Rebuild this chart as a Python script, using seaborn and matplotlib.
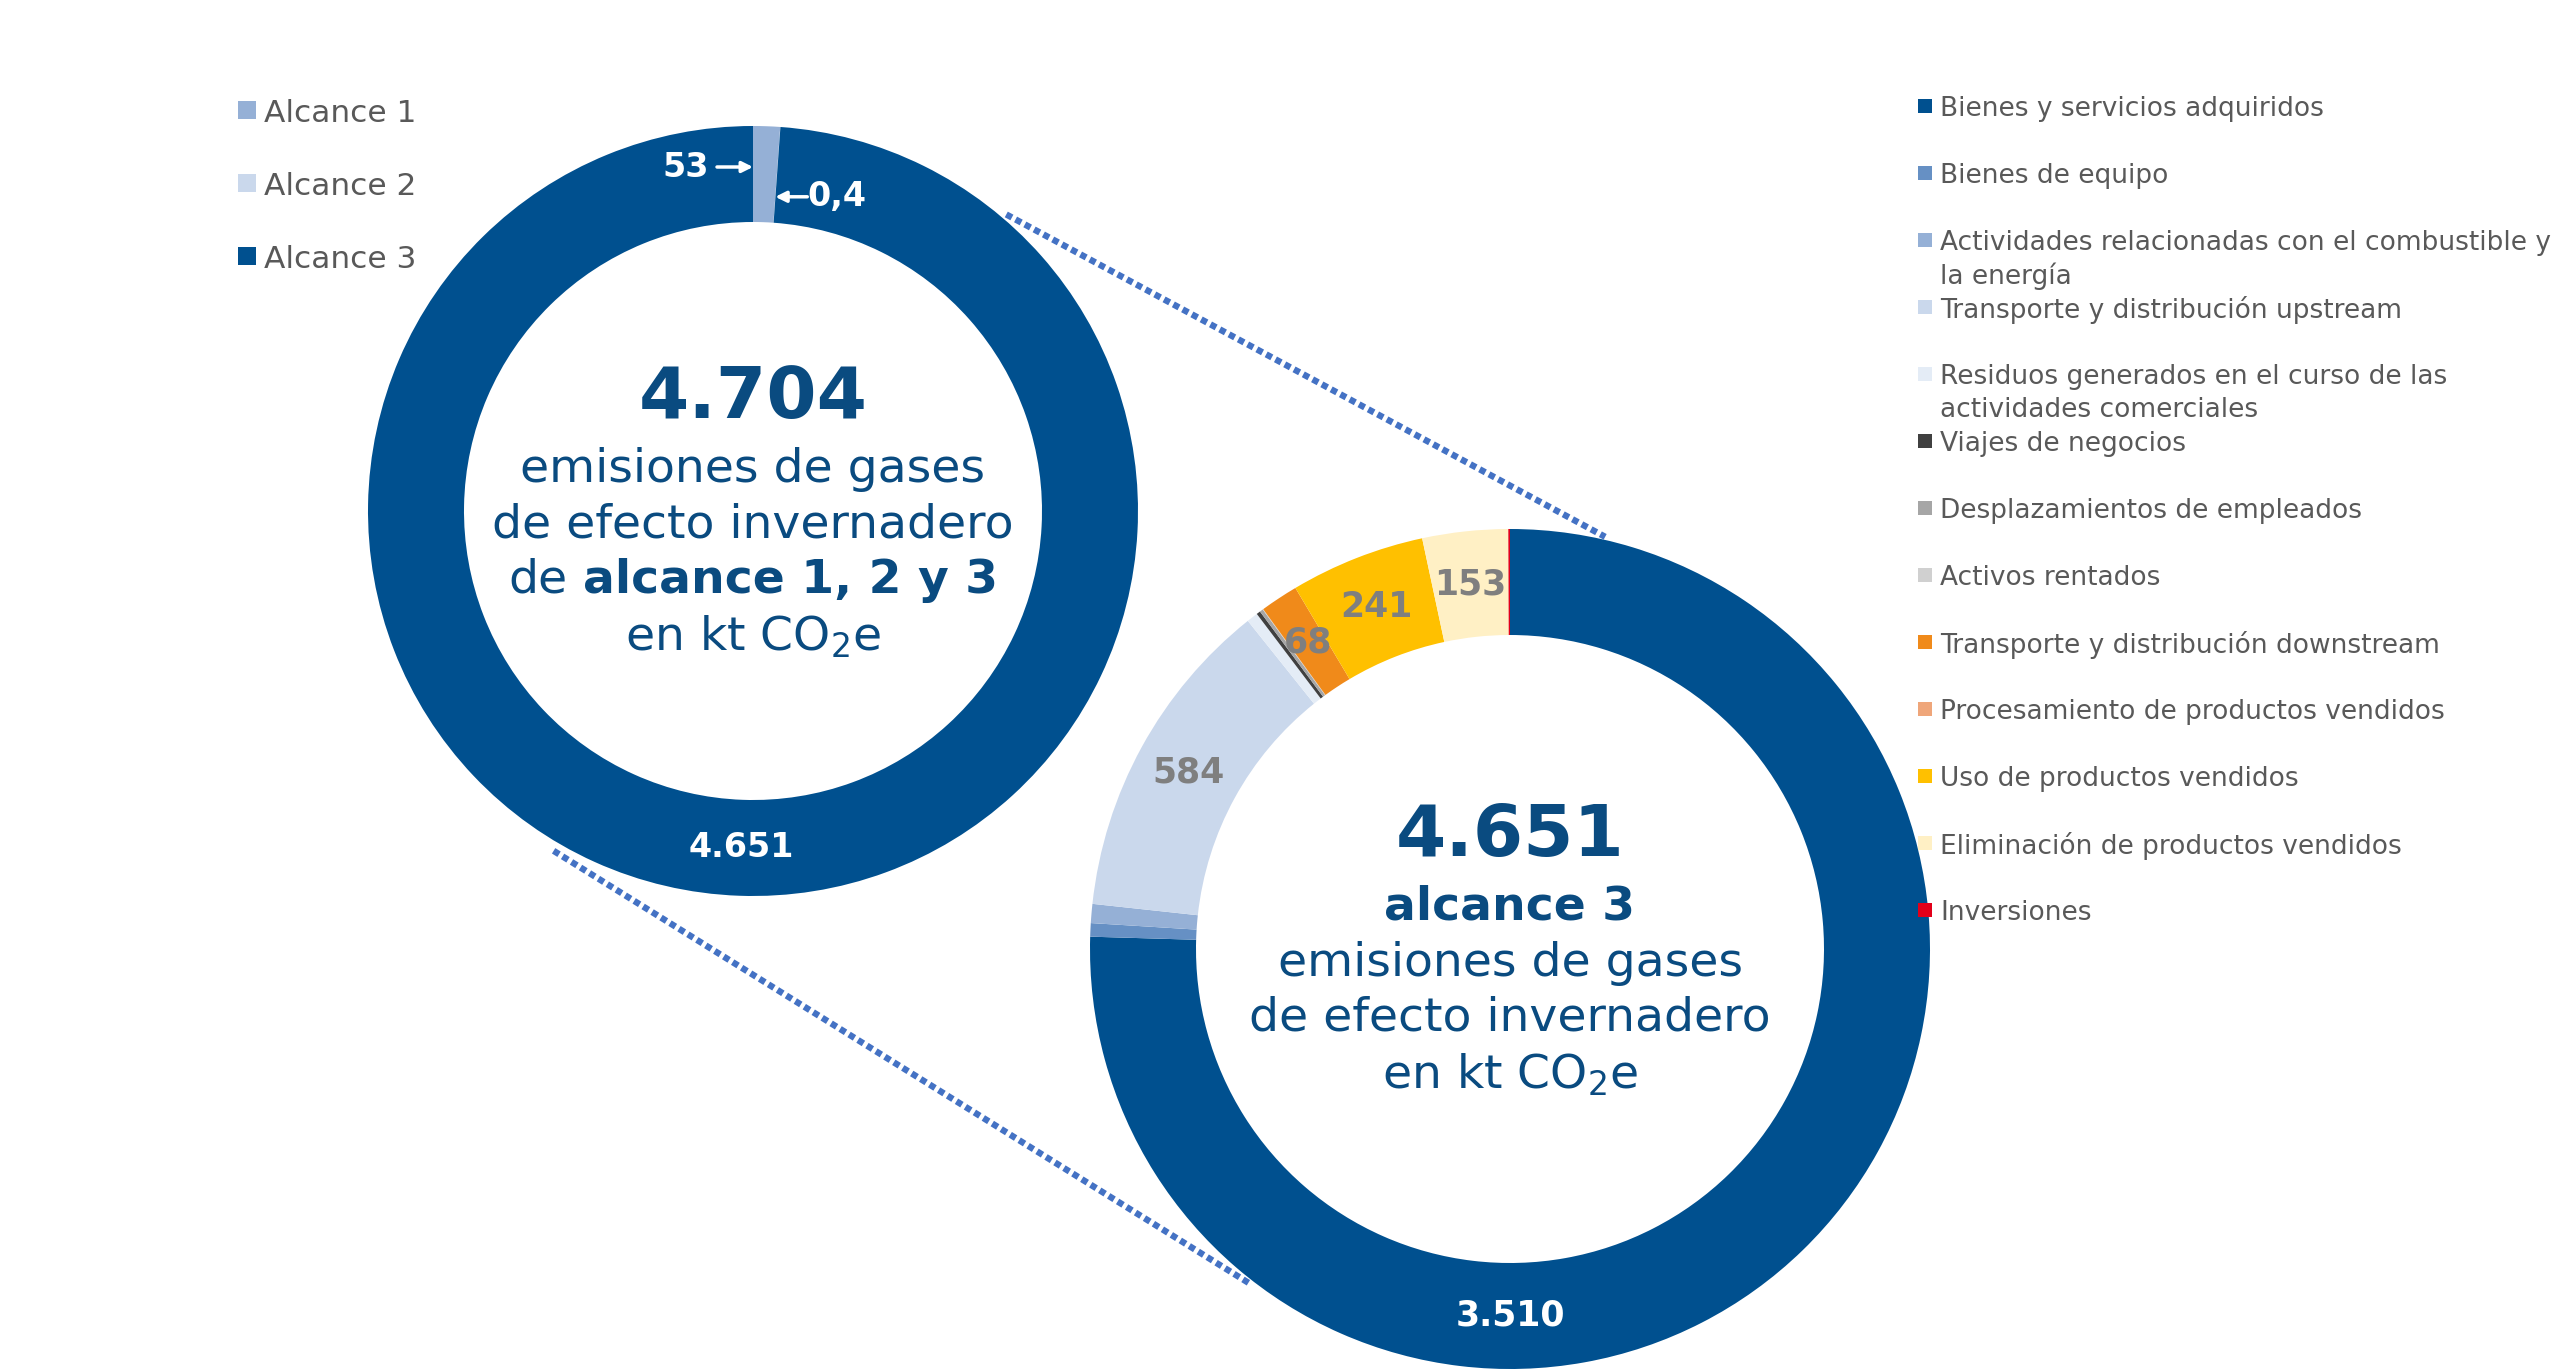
import numpy as np
import seaborn as sns
import matplotlib.pyplot as plt
from matplotlib.offsetbox import TextArea, HPacker, AnnotationBbox

sns.set_theme(style="white")
plt.rcParams["font.family"] = ["DejaVu Sans"]
plt.rcParams["mathtext.default"] = "regular"

# Datos: emisiones por alcance (kt CO2e)
scope_labels = ["Alcance 1", "Alcance 2", "Alcance 3"]
scope_values = [53, 0.4, 4651]
scope_colors = ["#95B0D6", "#CAD8EC", "#00508F"]

# Datos: categorías de alcance 3 (kt CO2e)
cat_labels = [
    "Bienes y servicios adquiridos",
    "Bienes de equipo",
    "Actividades relacionadas con el combustible y\nla energía",
    "Transporte y distribución upstream",
    "Residuos generados en el curso de las\nactividades comerciales",
    "Viajes de negocios",
    "Desplazamientos de empleados",
    "Activos rentados",
    "Transporte y distribución downstream",
    "Procesamiento de productos vendidos",
    "Uso de productos vendidos",
    "Eliminación de productos vendidos",
    "Inversiones",
]
cat_values = [3510, 24, 34, 584, 20, 7, 6, 1, 68, 0, 241, 153, 3]
cat_colors = ["#00508F", "#6690C4", "#95B0D6", "#CAD8EC", "#E4ECF6", "#404040",
              "#A6A6A6", "#D0D0D0", "#F08A1A", "#EFA67A", "#FFC000", "#FFF0C5",
              "#E2001A"]

W, H = 2560, 1370
BLUE_TXT = "#0A4B80"
GRAY_TXT = "#595959"


def fmt(v):
    if v < 1:
        return f"{v:.1f}".replace(".", ",")
    return f"{v:,.0f}".replace(",", ".")


def polar(cx, cy, r, ang):
    # ang en grados, sentido horario desde las 12; cy en píxeles desde arriba
    a = np.deg2rad(ang)
    return cx + r * np.sin(a), (H - cy) + r * np.cos(a)


def mid_angles(values):
    v = np.asarray(values, dtype=float)
    cum = np.cumsum(v)
    return (cum - v / 2) / v.sum() * 360, cum / v.sum() * 360


fig = plt.figure(figsize=(W / 100, H / 100), dpi=100)
ax = fig.add_axes([0, 0, 1, 1])

# donut izquierdo (alcances)
lx, ly, lr, lw = 753, 511, 385, 96
ax.pie(scope_values, colors=scope_colors, radius=lr, center=(lx, H - ly),
       startangle=90, counterclock=False, frame=True,
       wedgeprops=dict(width=lw, linewidth=0))

# donut derecho (categorías alcance 3)
rx, ry, rr, rw = 1510, 949, 420, 106
ax.pie(cat_values, colors=cat_colors, radius=rr, center=(rx, H - ry),
       startangle=90, counterclock=False, frame=True,
       wedgeprops=dict(width=rw, linewidth=0))

# líneas punteadas de conexión
for a1, r1, a2, r2 in [(40.5, 390, 13, 423), (210.4, 394, 218, 424)]:
    p1 = polar(lx, ly, r1, a1)
    p2 = polar(rx, ry, r2, a2)
    ax.plot([p1[0], p2[0]], [p1[1], p2[1]], ls=(0, (1, 0.65)), lw=4.6,
            color="#4472C4", zorder=0, dash_capstyle="butt")

# etiquetas donut izquierdo
mids, ends = mid_angles(scope_values)
tip = polar(lx, ly, 344, 0)
ax.annotate("", xy=tip, xytext=(tip[0] - 36, tip[1]),
            arrowprops=dict(arrowstyle="-|>", color="white", lw=2.5,
                            mutation_scale=16, shrinkA=0, shrinkB=0))
ax.text(tip[0] - 44, tip[1], fmt(scope_values[0]), color="white",
        fontsize=24, fontweight="bold", ha="right", va="center")
tip = polar(lx, ly, 315, ends[0])
ax.annotate("", xy=tip, xytext=(tip[0] + 32, tip[1]),
            arrowprops=dict(arrowstyle="-|>", color="white", lw=2.5,
                            mutation_scale=16, shrinkA=0, shrinkB=0))
ax.text(tip[0] + 32, tip[1], fmt(scope_values[1]), color="white",
        fontsize=24, fontweight="bold", ha="left", va="center")
pos = polar(lx, ly, lr - lw / 2, 182)
ax.text(*pos, fmt(scope_values[2]), color="white", fontsize=24,
        fontweight="bold", ha="center", va="center")

# etiquetas donut derecho
mids, ends = mid_angles(cat_values)
for i, v in enumerate(cat_values):
    if v < 60:
        continue
    ang = 180 if i == 0 else mids[i]
    col = "white" if i == 0 else "#7F7F7F"
    pos = polar(rx, ry, rr - rw / 2, ang)
    ax.text(*pos, fmt(v), color=col, fontsize=25, fontweight="bold",
            ha="center", va="center")

# textos centrales
offs = [-113, -42, 14, 69, 126]
big = dict(color=BLUE_TXT, fontsize=52, fontweight="bold", ha="center", va="center")
reg = dict(color=BLUE_TXT, fontsize=34, ha="center", va="center")

ax.text(lx, H - (ly + offs[0]), fmt(sum(scope_values)), **big)
ax.text(lx, H - (ly + offs[1]), "emisiones de gases", **reg)
ax.text(lx, H - (ly + offs[2]), "de efecto invernadero", **reg)
box = HPacker(children=[
    TextArea("de", textprops=dict(color=BLUE_TXT, fontsize=34)),
    TextArea("alcance 1, 2 y 3", textprops=dict(color=BLUE_TXT, fontsize=34,
                                                  fontweight="bold")),
], align="baseline", pad=0, sep=10.8)
ax.add_artist(AnnotationBbox(box, (lx, H - (ly + offs[3])), frameon=False,
                             box_alignment=(0.5, 0.5), pad=0))
ax.text(lx, H - (ly + offs[4]), "en kt CO$_2$e", **reg)

ax.text(rx, H - (ry + offs[0]), fmt(sum(cat_values)), **big)
ax.text(rx, H - (ry + offs[1]), "alcance 3", fontweight="bold", **reg)
ax.text(rx, H - (ry + offs[2]), "emisiones de gases", **reg)
ax.text(rx, H - (ry + offs[3]), "de efecto invernadero", **reg)
ax.text(rx, H - (ry + offs[4]), "en kt CO$_2$e", **reg)

# leyenda izquierda
for i, (lab, col) in enumerate(zip(scope_labels, scope_colors)):
    y = H - (110 + 73 * i)
    ax.scatter([247], [y], marker="s", s=150, color=col, linewidths=0)
    ax.text(264, y, lab, color=GRAY_TXT, fontsize=22.5, ha="left",
            va="center_baseline")

# leyenda derecha (las líneas extra no desplazan la fila siguiente)
for i, (lab, col) in enumerate(zip(cat_labels, cat_colors)):
    y = H - (106 + 67 * i)
    ax.scatter([1925], [y], marker="s", s=100, color=col, linewidths=0)
    for k, line in enumerate(lab.split("\n")):
        ax.text(1940, y - 33 * k, line, color=GRAY_TXT, fontsize=19,
                ha="left", va="center_baseline")

ax.set_xlim(0, W)
ax.set_ylim(0, H)
ax.set_aspect("equal")
ax.axis("off")

fig.savefig("out.png", dpi=100)
